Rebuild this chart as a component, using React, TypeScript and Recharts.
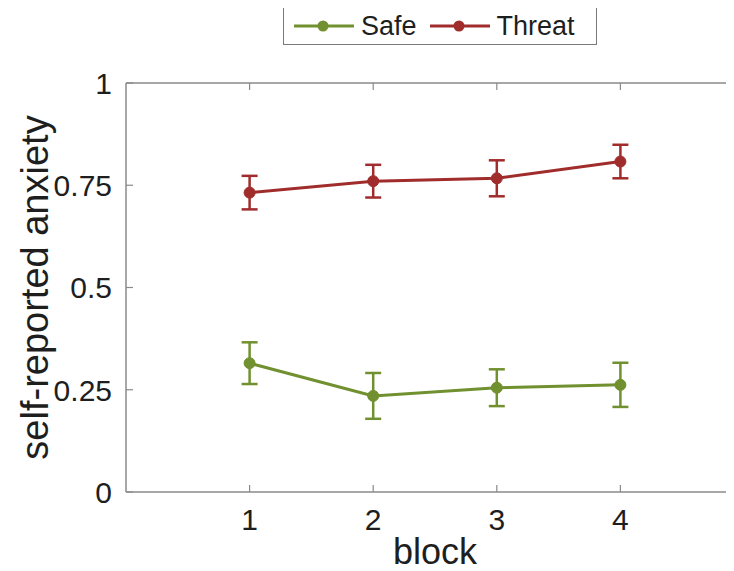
import { LineChart, Line, XAxis, YAxis, ErrorBar } from "recharts";

const blocks = [1, 2, 3, 4];
const safeMean = [0.315, 0.235, 0.255, 0.262];
const safeErr = [0.051, 0.056, 0.045, 0.054];
const threatMean = [0.732, 0.76, 0.767, 0.808];
const threatErr = [0.041, 0.04, 0.044, 0.041];
const xTicks = [1, 2, 3, 4];
const yTicks = [0, 0.25, 0.5, 0.75, 1];

const GREEN = "#71902f";
const RED = "#a02c2c";
const AXIS = "#8a8a8a";
const INK = "#1e1e1e";
const FONT = "'Liberation Sans', Arial, Helvetica, sans-serif";

const data = blocks.map((b, i) => ({
  block: b,
  safe: safeMean[i],
  safeErr: safeErr[i],
  threat: threatMean[i],
  threatErr: threatErr[i],
}));

const BottomTick = ({ x, y, payload }: any) => (
  <g>
    <line x1={x} x2={x} y1={y} y2={y - 7} stroke={AXIS} strokeWidth={1.2} />
    <text x={x} y={y + 38} textAnchor="middle" fontSize={30} fill={INK} fontFamily={FONT}>
      {payload.value}
    </text>
  </g>
);

const TopTick = ({ x, y }: any) => (
  <line x1={x} x2={x} y1={y} y2={y + 7} stroke={AXIS} strokeWidth={1.2} />
);

const LeftTick = ({ x, y, payload }: any) => (
  <g>
    <line x1={x} x2={x + 7} y1={y} y2={y} stroke={AXIS} strokeWidth={1.2} />
    <text x={x - 14} y={y} dy="0.36em" textAnchor="end" fontSize={30} fill={INK} fontFamily={FONT}>
      {String(payload.value)}
    </text>
  </g>
);

const RightTick = ({ x, y }: any) => (
  <line x1={x} x2={x - 7} y1={y} y2={y} stroke={AXIS} strokeWidth={1.2} />
);

const YLabel = ({ viewBox }: any) => {
  const cx = viewBox.x + 35;
  const cy = viewBox.y + viewBox.height / 2;
  return (
    <text
      x={cx}
      y={cy}
      transform={`rotate(-90, ${cx}, ${cy})`}
      textAnchor="middle"
      dominantBaseline="central"
      fontSize={38}
      fill={INK}
      fontFamily={FONT}
    >
      self-reported anxiety
    </text>
  );
};

const XLabel = ({ viewBox }: any) => (
  <text
    x={viewBox.x + viewBox.width / 2}
    y={viewBox.y + 72}
    textAnchor="middle"
    fontSize={36}
    fill={INK}
    fontFamily={FONT}
  >
    block
  </text>
);

const LegendItem = ({ color, label }: { color: string; label: string }) => (
  <div style={{ display: "flex", alignItems: "center" }}>
    <svg width={60} height={14}>
      <line x1={0} x2={60} y1={7} y2={7} stroke={color} strokeWidth={3} />
      <circle cx={29} cy={7} r={5.5} fill={color} />
    </svg>
    <span style={{ marginLeft: 7, fontSize: 27, color: INK, fontFamily: FONT, lineHeight: "30px" }}>
      {label}
    </span>
  </div>
);

export default function App() {
  return (
    <div
      style={{
        position: "relative",
        width: 734,
        height: 571,
        overflow: "hidden",
        margin: "-8px 0 0 -8px",
        background: "#fff",
      }}
    >
      <LineChart
        width={760}
        height={571}
        data={data}
        margin={{ top: 0, right: 0, bottom: 0, left: 0 }}
      >
        <XAxis
          dataKey="block"
          type="number"
          domain={[0, 5]}
          ticks={xTicks}
          allowDataOverflow
          height={79}
          axisLine={{ stroke: AXIS, strokeWidth: 1.5 }}
          tickLine={false}
          tickSize={0}
          tickMargin={0}
          tick={<BottomTick />}
          label={<XLabel />}
        />
        <XAxis
          xAxisId="top"
          orientation="top"
          dataKey="block"
          type="number"
          domain={[0, 5]}
          ticks={xTicks}
          allowDataOverflow
          height={83}
          axisLine={{ stroke: AXIS, strokeWidth: 1.5 }}
          tickLine={false}
          tickSize={0}
          tickMargin={0}
          tick={<TopTick />}
        />
        <YAxis
          type="number"
          domain={[0, 1]}
          ticks={yTicks}
          allowDataOverflow
          width={126}
          axisLine={{ stroke: AXIS, strokeWidth: 1.5 }}
          tickLine={false}
          tickSize={0}
          tickMargin={0}
          tick={<LeftTick />}
          label={<YLabel />}
        />
        <YAxis
          yAxisId="right"
          orientation="right"
          type="number"
          domain={[0, 1]}
          ticks={yTicks}
          allowDataOverflow
          width={16}
          axisLine={{ stroke: AXIS, strokeWidth: 1.5 }}
          tickLine={false}
          tickSize={0}
          tickMargin={0}
          tick={<RightTick />}
        />
        <Line
          dataKey="safe"
          stroke={GREEN}
          strokeWidth={3}
          dot={{ r: 5.5, fill: GREEN, stroke: GREEN, strokeWidth: 1 }}
          isAnimationActive={false}
        >
          <ErrorBar dataKey="safeErr" direction="y" width={8} stroke={GREEN} strokeWidth={2.5} isAnimationActive={false} />
        </Line>
        <Line
          dataKey="threat"
          stroke={RED}
          strokeWidth={3}
          dot={{ r: 5.5, fill: RED, stroke: RED, strokeWidth: 1 }}
          isAnimationActive={false}
        >
          <ErrorBar dataKey="threatErr" direction="y" width={8} stroke={RED} strokeWidth={2.5} isAnimationActive={false} />
        </Line>
      </LineChart>

      <div
        style={{
          position: "absolute",
          left: 283,
          top: 7,
          width: 302,
          height: 36,
          border: "1.5px solid #7a7a7a",
          background: "#fff",
          display: "flex",
          alignItems: "center",
          paddingLeft: 10,
          boxSizing: "content-box",
          gap: 13,
        }}
      >
        <LegendItem color={GREEN} label="Safe" />
        <LegendItem color={RED} label="Threat" />
      </div>
    </div>
  );
}
